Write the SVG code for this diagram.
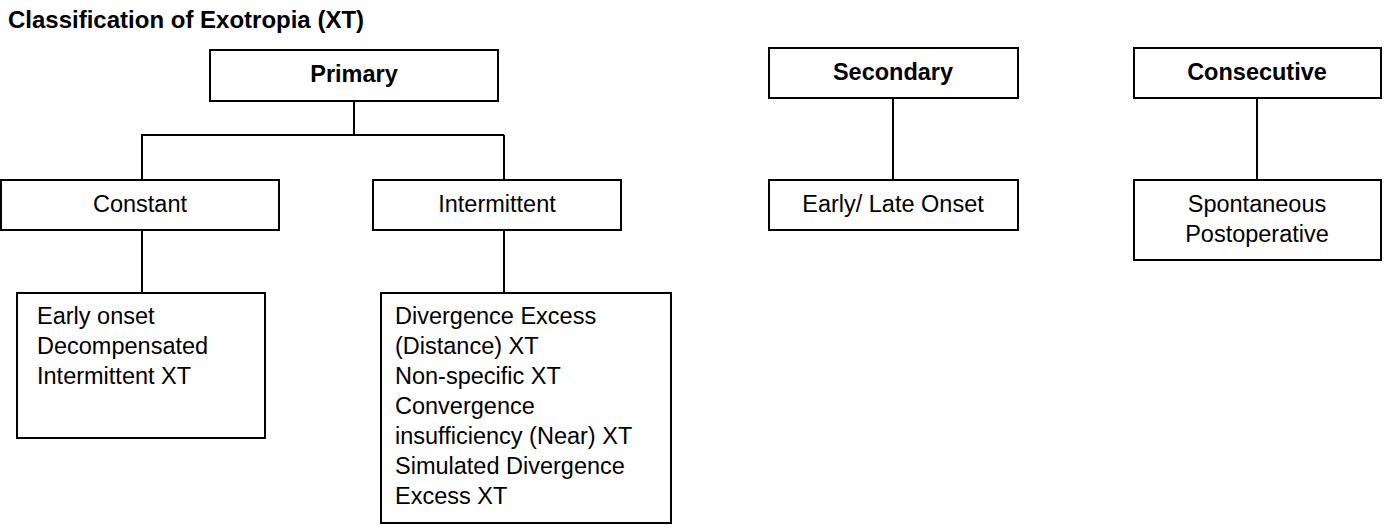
<svg xmlns="http://www.w3.org/2000/svg" width="1384" height="525" viewBox="0 0 1384 525">
<style>
rect{fill:#fff;stroke:#000;stroke-width:2}
line{stroke:#000;stroke-width:2}
text{font-family:"Liberation Sans",Arial,sans-serif;font-size:23.5px;fill:#000}
.b{font-weight:bold}
.c{text-anchor:middle}
</style>
<rect x="0" y="0" width="1384" height="525" style="fill:#fff;stroke:none"/>
<text x="8" y="28" class="b" style="font-size:24px">Classification of Exotropia (XT)</text>
<g id="connectors">
<line x1="354" y1="101" x2="354" y2="135"/>
<line x1="141" y1="135" x2="504" y2="135"/>
<line x1="142" y1="135" x2="142" y2="180"/>
<line x1="504" y1="135" x2="504" y2="180"/>
<line x1="142" y1="230" x2="142" y2="293"/>
<line x1="504" y1="230" x2="504" y2="293"/>
<line x1="893" y1="98" x2="893" y2="180"/>
<line x1="1257" y1="98" x2="1257" y2="180"/>
</g>
<g id="primary"><rect x="210" y="50" width="288" height="51"/><text x="354" y="82" class="b c">Primary</text></g>
<g id="constant"><rect x="1" y="180" width="278" height="50"/><text x="140" y="212" class="c">Constant</text></g>
<g id="intermittent"><rect x="373" y="180" width="248" height="50"/><text x="497" y="212" class="c">Intermittent</text></g>
<g id="constant-types"><rect x="17" y="293" width="248" height="145"/>
<text x="37" y="324">Early onset</text><text x="37" y="354">Decompensated</text><text x="37" y="384">Intermittent XT</text></g>
<g id="intermittent-types"><rect x="381" y="293" width="290" height="230"/>
<text x="395" y="324">Divergence Excess</text><text x="395" y="354">(Distance) XT</text><text x="395" y="384">Non-specific XT</text><text x="395" y="414">Convergence</text><text x="395" y="444">insufficiency (Near) XT</text><text x="395" y="474">Simulated Divergence</text><text x="395" y="504">Excess XT</text></g>
<g id="secondary"><rect x="769" y="48" width="249" height="50"/><text x="893" y="80" class="b c">Secondary</text></g>
<g id="secondary-types"><rect x="769" y="180" width="249" height="50"/><text x="893" y="212" class="c">Early/ Late Onset</text></g>
<g id="consecutive"><rect x="1134" y="48" width="247" height="50"/><text x="1257" y="80" class="b c">Consecutive</text></g>
<g id="consecutive-types"><rect x="1134" y="180" width="247" height="80"/><text x="1257" y="212" class="c">Spontaneous</text><text x="1257" y="242" class="c">Postoperative</text></g>
</svg>
